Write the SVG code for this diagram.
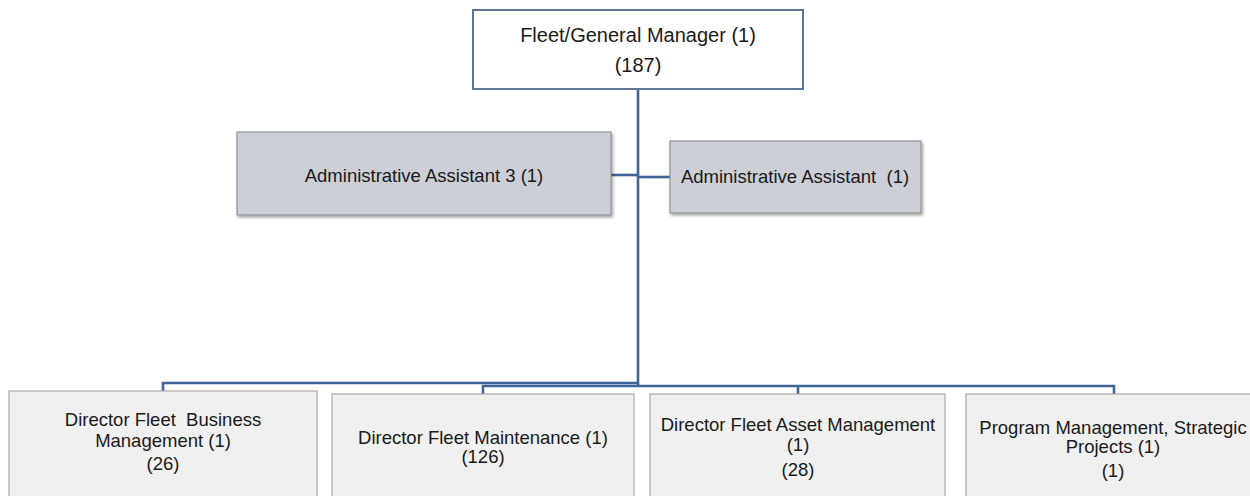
<svg xmlns="http://www.w3.org/2000/svg" width="1250" height="496" viewBox="0 0 1250 496">
<style>
text{font-family:"Liberation Sans",Arial,sans-serif;fill:#1a1a1a;text-anchor:middle;white-space:pre}
.top{fill:#ffffff;stroke:#5f7694;stroke-width:2}
.asst{fill:#cccfd6;stroke:#8f9399;stroke-width:1.2}
.dir{fill:#f0f0f0;stroke:#aaaaaa;stroke-width:1.2}
.conn{fill:none;stroke:#3f6699;stroke-width:2.6}
.t20{font-size:20px}
.t18{font-size:18.5px}
</style>
<defs>
<filter id="sh" x="-5%" y="-5%" width="115%" height="125%">
<feDropShadow dx="1.5" dy="2" stdDeviation="1.5" flood-color="#000" flood-opacity="0.35"/>
</filter>
</defs>
<g id="connectors">
<path class="conn" d="M638,89 V386"/>
<path class="conn" d="M611,175 H638"/>
<path class="conn" d="M638,177 H670"/>
<path class="conn" d="M163,391 V383 H638"/>
<path class="conn" d="M483,394 V386 H1114 V394"/>
<path class="conn" d="M798,386 V394"/>
</g>
<g id="fleet-manager">
<rect class="top" x="473" y="10" width="330" height="79"/>
<text class="t20" x="638" y="42">Fleet/General Manager (1)</text>
<text class="t20" x="638" y="72">(187)</text>
</g>
<g id="admin-assistant-3">
<rect class="asst" x="237" y="132" width="374" height="83" filter="url(#sh)"/>
<text class="t18" x="424" y="182">Administrative Assistant 3 (1)</text>
</g>
<g id="admin-assistant">
<rect class="asst" x="670" y="141" width="251" height="72" filter="url(#sh)"/>
<text class="t18" x="795" y="183">Administrative Assistant  (1)</text>
</g>
<g id="director-business">
<rect class="dir" x="9" y="391" width="308" height="110"/>
<text class="t18" x="163" y="426">Director Fleet  Business</text>
<text class="t18" x="163" y="447">Management (1)</text>
<text class="t18" x="163" y="470">(26)</text>
</g>
<g id="director-maintenance">
<rect class="dir" x="332" y="394" width="302" height="110"/>
<text class="t18" x="483" y="444">Director Fleet Maintenance (1)</text>
<text class="t18" x="483" y="463">(126)</text>
</g>
<g id="director-asset">
<rect class="dir" x="650" y="394" width="295" height="110"/>
<text class="t18" x="798" y="431">Director Fleet Asset Management</text>
<text class="t18" x="798" y="451">(1)</text>
<text class="t18" x="798" y="476">(28)</text>
</g>
<g id="program-management">
<rect class="dir" x="966" y="394" width="300" height="110"/>
<text class="t18" x="1113" y="434">Program Management, Strategic</text>
<text class="t18" x="1113" y="453">Projects (1)</text>
<text class="t18" x="1113" y="477">(1)</text>
</g>
</svg>
